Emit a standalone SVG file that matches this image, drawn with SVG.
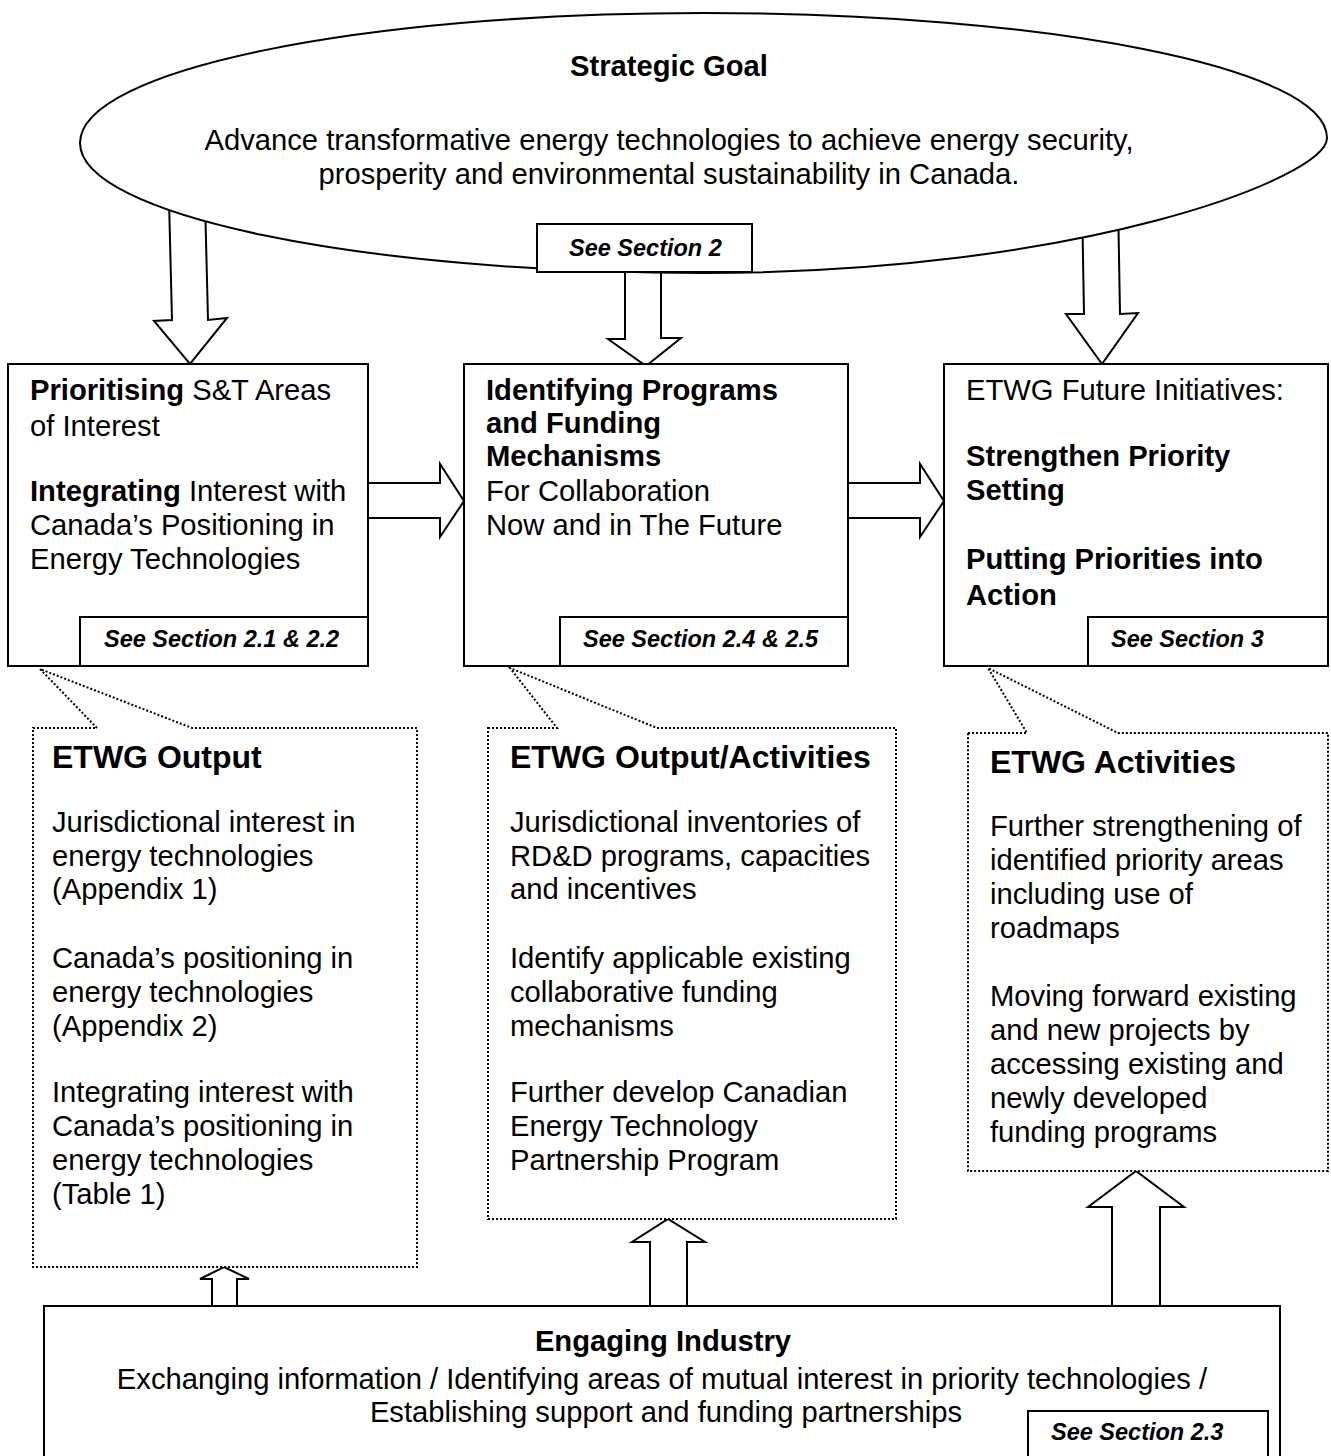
<svg xmlns="http://www.w3.org/2000/svg" width="1331" height="1456" viewBox="0 0 1331 1456">
<style>
text{font-family:"Liberation Sans",Arial,sans-serif;fill:#000}
.t{font-size:29.2px}
.h{font-size:32px;font-weight:bold}
.s{font-size:23.5px;font-weight:bold;font-style:italic}
.b{font-weight:bold}
.box{fill:#fff;stroke:#000;stroke-width:2}
.dot{fill:#fff;stroke:#000;stroke-width:2;stroke-dasharray:2 2}
.arr{fill:#fff;stroke:#000;stroke-width:2;stroke-linejoin:miter}
</style>
<rect width="1331" height="1456" fill="#fff"/>
<g id="connectors">
<path class="arr" d="M169,200 L172,320 L154,321 L190,364 L227,318 L208,320 L205,200"/>
<path class="arr" d="M1082,200 L1084,314 L1066,314 L1102,364 L1138,313 L1120,314 L1118,200"/>
<path class="arr" d="M625,272 L625,339 L608,339 L646,366 L681,338 L661,338 L661,272"/>
<path class="arr" d="M368,483 L440,483 L440,464 L464,501 L440,537 L440,518 L368,518"/>
<path class="arr" d="M848,483 L920,483 L920,464 L944,501 L920,537 L920,518 L848,518"/>
<path class="arr" d="M212,1307 L212,1279 L200,1279 L224,1267 L249,1279 L237,1279 L237,1307"/>
<path class="arr" d="M650,1307 L650,1242 L632,1242 L668,1219 L705,1242 L687,1242 L687,1307"/>
<path class="arr" d="M1112,1306 L1112,1207 L1088,1207 L1136,1171 L1184,1207 L1160,1207 L1160,1306"/>
</g>
<g id="goal">
<path class="box" d="M80,143 C80,70 359,13 703,13 C1048,13 1327,68 1327,138 C1327,178 1080,273 703,273 C359,273 80,215 80,143 Z"/>
<text class="t b" x="669" y="76" text-anchor="middle">Strategic Goal</text>
<text class="t" x="669" y="150" text-anchor="middle">Advance transformative energy technologies to achieve energy security,</text>
<text class="t" x="669" y="184" text-anchor="middle">prosperity and environmental sustainability in Canada.</text>
<rect class="box" x="537" y="224" width="215" height="48"/>
<text class="s" x="569" y="256">See Section 2</text>
</g>
<g id="prioritising">
<rect class="box" x="8" y="364" width="360" height="302"/>
<text class="t" x="30" y="400"><tspan class="b">Prioritising</tspan> S&amp;T Areas</text>
<text class="t" x="30" y="436">of Interest</text>
<text class="t" x="30" y="501"><tspan class="b">Integrating</tspan> Interest with</text>
<text class="t" x="30" y="535">Canada’s Positioning in</text>
<text class="t" x="30" y="569">Energy Technologies</text>
<rect class="box" x="80" y="617" width="288" height="49"/>
<text class="s" x="104" y="647">See Section 2.1 &amp; 2.2</text>
</g>
<g id="identifying">
<rect class="box" x="464" y="364" width="384" height="302"/>
<text class="t b" x="486" y="400">Identifying Programs</text>
<text class="t b" x="486" y="433">and Funding</text>
<text class="t b" x="486" y="466">Mechanisms</text>
<text class="t" x="486" y="501">For Collaboration</text>
<text class="t" x="486" y="535">Now and in The Future</text>
<rect class="box" x="560" y="617" width="288" height="49"/>
<text class="s" x="583" y="647">See Section 2.4 &amp; 2.5</text>
</g>
<g id="future">
<rect class="box" x="944" y="364" width="384" height="302"/>
<text class="t" x="966" y="400">ETWG Future Initiatives:</text>
<text class="t b" x="966" y="466">Strengthen Priority</text>
<text class="t b" x="966" y="500">Setting</text>
<text class="t b" x="966" y="569">Putting Priorities into</text>
<text class="t b" x="966" y="605">Action</text>
<rect class="box" x="1088" y="617" width="240" height="49"/>
<text class="s" x="1111" y="647">See Section 3</text>
</g>
<g id="output">
<path class="dot" d="M33,728 L97,728 L40,669 L192,728 L417,728 L417,1267 L33,1267 Z"/>
<text class="h" x="52" y="768">ETWG Output</text>
<text class="t" x="52" y="832">Jurisdictional interest in</text>
<text class="t" x="52" y="866">energy technologies</text>
<text class="t" x="52" y="899">(Appendix 1)</text>
<text class="t" x="52" y="968">Canada’s positioning in</text>
<text class="t" x="52" y="1002">energy technologies</text>
<text class="t" x="52" y="1036">(Appendix 2)</text>
<text class="t" x="52" y="1102">Integrating interest with</text>
<text class="t" x="52" y="1136">Canada’s positioning in</text>
<text class="t" x="52" y="1170">energy technologies</text>
<text class="t" x="52" y="1204">(Table 1)</text>
</g>
<g id="output-activities">
<path class="dot" d="M488,728 L557,728 L510,668 L657,728 L896,728 L896,1219 L488,1219 Z"/>
<text class="h" x="510" y="768">ETWG Output/Activities</text>
<text class="t" x="510" y="832">Jurisdictional inventories of</text>
<text class="t" x="510" y="866">RD&amp;D programs, capacities</text>
<text class="t" x="510" y="899">and incentives</text>
<text class="t" x="510" y="968">Identify applicable existing</text>
<text class="t" x="510" y="1002">collaborative funding</text>
<text class="t" x="510" y="1036">mechanisms</text>
<text class="t" x="510" y="1102">Further develop Canadian</text>
<text class="t" x="510" y="1136">Energy Technology</text>
<text class="t" x="510" y="1170">Partnership Program</text>
</g>
<g id="activities">
<path class="dot" d="M968,733 L1027,733 L988,668 L1118,733 L1328,733 L1328,1171 L968,1171 Z"/>
<text class="h" x="990" y="773">ETWG Activities</text>
<text class="t" x="990" y="836">Further strengthening of</text>
<text class="t" x="990" y="870">identified priority areas</text>
<text class="t" x="990" y="904">including use of</text>
<text class="t" x="990" y="938">roadmaps</text>
<text class="t" x="990" y="1006">Moving forward existing</text>
<text class="t" x="990" y="1040">and new projects by</text>
<text class="t" x="990" y="1074">accessing existing and</text>
<text class="t" x="990" y="1108">newly developed</text>
<text class="t" x="990" y="1142">funding programs</text>
</g>
<g id="industry">
<rect class="box" x="44" y="1306" width="1236" height="200"/>
<text class="t b" x="663" y="1351" text-anchor="middle">Engaging Industry</text>
<text class="t" x="662" y="1389" text-anchor="middle">Exchanging information / Identifying areas of mutual interest in priority technologies /</text>
<text class="t" x="666" y="1422" text-anchor="middle">Establishing support and funding partnerships</text>
<rect class="box" x="1028" y="1411" width="240" height="100"/>
<text class="s" x="1051" y="1440">See Section 2.3</text>
</g>
</svg>
